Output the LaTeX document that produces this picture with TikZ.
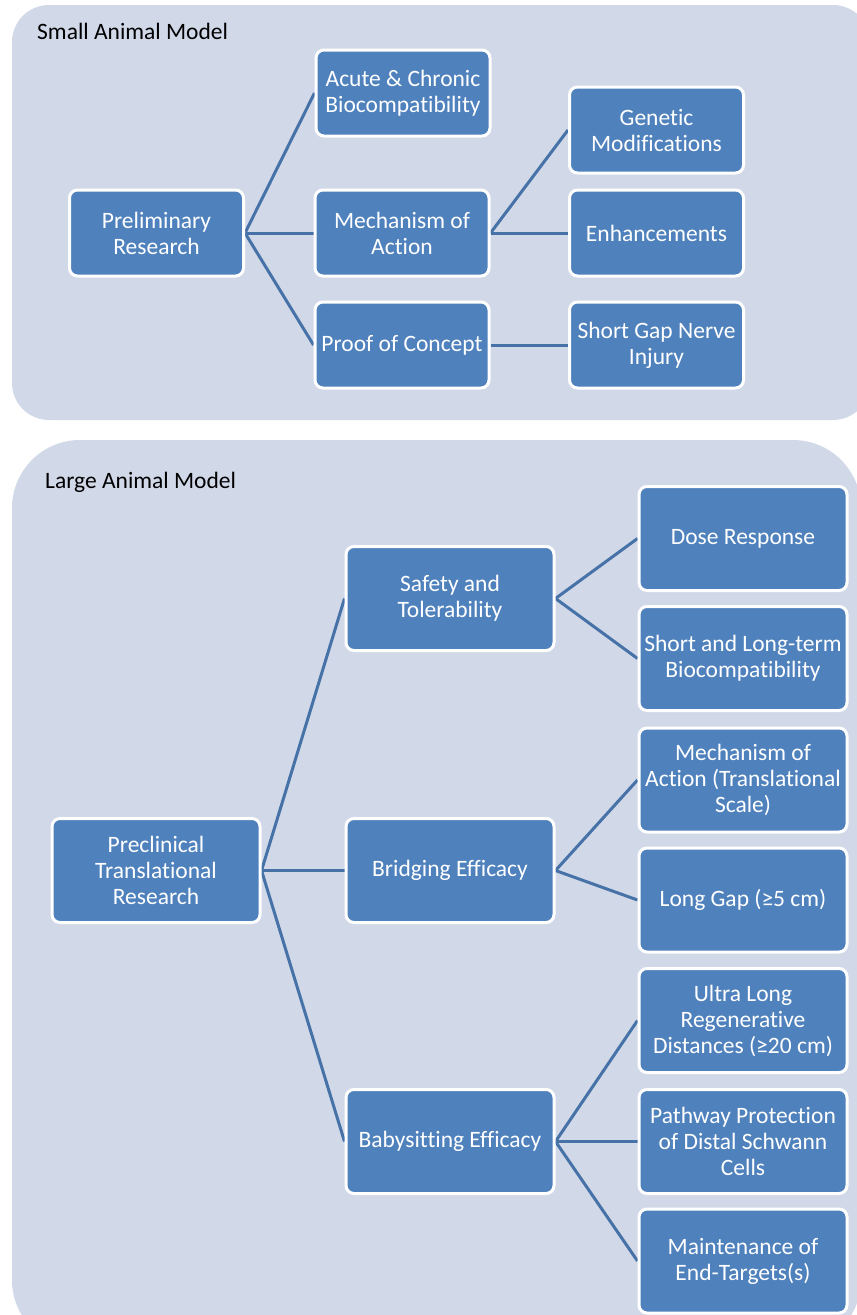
\documentclass[tikz,border=0pt]{standalone}
\usepackage{fontspec}
\setmainfont{Carlito}[Ligatures=NoCommon]
\usetikzlibrary{backgrounds}
\definecolor{panelbg}{HTML}{D1D8E8}
\definecolor{boxfill}{HTML}{4F81BD}
\definecolor{linkcol}{HTML}{4672A8}
\begin{document}
\begin{tikzpicture}[x=1pt,y=-1pt,
  panel/.style={fill=panelbg, draw=none},
  bx/.style={draw=white, line width=3pt, fill=boxfill, rounded corners=8pt, text=white, align=center, inner sep=0pt, font=\fontsize{23.5}{26}\selectfont},
  sbox/.style={bx, minimum width=174pt, minimum height=86pt},
  lbox/.style={bx, minimum width=208pt, minimum height=104pt},
  link/.style={draw=linkcol, line width=3pt},
  ttl/.style={anchor=base west, inner sep=0pt, font=\fontsize{23.5}{26}\selectfont, text=black}
]
\useasboundingbox (0,0) rectangle (857,1315);
\begin{scope}[on background layer]
  \clip (0,0) rectangle (857,1315);
  \fill[panel, rounded corners=37pt] (12,5) rectangle (870,420);
  \fill[panel, rounded corners=68pt] (12,440) rectangle (861,1348);
\end{scope}

\node[ttl] (t1) at (37,39) {Small Animal Model};
\node[ttl] (t2) at (45,488) {Large Animal Model};

% small animal model
\node[sbox] (pre) at (156.5,233) {Preliminary\\Research};
\node[sbox] (acute) at (403,93) {Acute \& Chronic\\Biocompatibility};
\node[sbox] (mech) at (402,233) {Mechanism of\\Action};
\node[sbox] (proof) at (402,345) {Proof of Concept};
\node[sbox] (gen) at (656.5,130) {Genetic\\Modifications};
\node[sbox] (enh) at (656.5,233) {Enhancements};
\node[sbox] (sgap) at (656.5,345) {Short Gap Nerve\\Injury};

% large animal model
\node[lbox] (precl) at (156,870.5) {Preclinical\\Translational\\Research};
\node[lbox] (safe) at (450,598.5) {Safety and\\Tolerability};
\node[lbox] (bridge) at (450,870.5) {Bridging Efficacy};
\node[lbox] (baby) at (450,1141.5) {Babysitting Efficacy};
\node[lbox] (dose) at (743,538.5) {Dose Response};
\node[lbox] (sltb) at (743,658.5) {Short and Long-term\\Biocompatibility};
\node[lbox] (mech2) at (743,780) {Mechanism of\\Action (Translational\\Scale)};
\node[lbox] (lgap) at (743,900) {Long Gap (≥5 cm)};
\node[lbox] (ultra) at (743,1020.5) {Ultra Long\\Regenerative\\Distances (≥20 cm)};
\node[lbox] (path) at (743,1141.5) {Pathway Protection\\of Distal Schwann\\Cells};
\node[lbox] (maint) at (743,1261) {Maintenance of\\End-Targets(s)};

\begin{scope}[on background layer]
  \draw[link] (pre.east) -- (acute.west);
  \draw[link] (pre.east) -- (mech.west);
  \draw[link] (pre.east) -- (proof.west);
  \draw[link] (mech.east) -- (gen.west);
  \draw[link] (mech.east) -- (enh.west);
  \draw[link] (proof.east) -- (sgap.west);
  \draw[link] (precl.east) -- (safe.west);
  \draw[link] (precl.east) -- (bridge.west);
  \draw[link] (precl.east) -- (baby.west);
  \draw[link] (safe.east) -- (dose.west);
  \draw[link] (safe.east) -- (sltb.west);
  \draw[link] (bridge.east) -- (mech2.west);
  \draw[link] (bridge.east) -- (lgap.west);
  \draw[link] (baby.east) -- (ultra.west);
  \draw[link] (baby.east) -- (path.west);
  \draw[link] (baby.east) -- (maint.west);
\end{scope}
\end{tikzpicture}
\end{document}
